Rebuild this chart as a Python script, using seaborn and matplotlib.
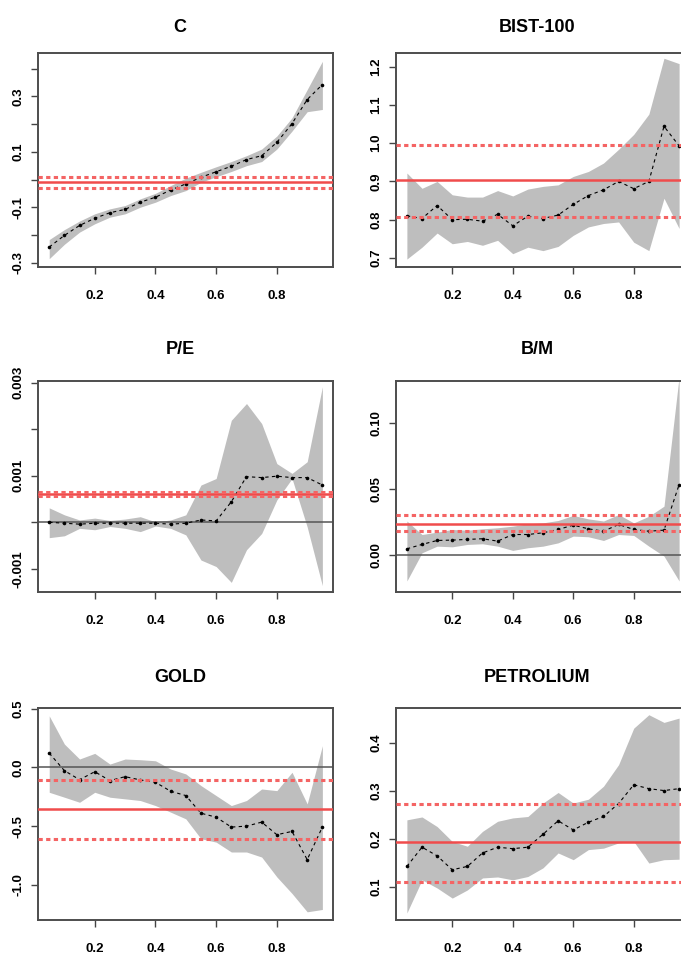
import numpy as np
import matplotlib
matplotlib.use("Agg")
import matplotlib.pyplot as plt
import seaborn as sns

taus = [0.05, 0.10, 0.15, 0.20, 0.25, 0.30, 0.35, 0.40, 0.45, 0.50,
        0.55, 0.60, 0.65, 0.70, 0.75, 0.80, 0.85, 0.90, 0.95]

# C (intercept)
c_est = [-0.244, -0.202, -0.166, -0.140, -0.120, -0.108, -0.082, -0.064, -0.038, -0.016,
         0.008, 0.028, 0.048, 0.072, 0.086, 0.134, 0.202, 0.289, 0.343]
c_lo = [-0.286, -0.234, -0.190, -0.160, -0.136, -0.124, -0.100, -0.082, -0.058, -0.040,
        -0.010, 0.010, 0.029, 0.050, 0.065, 0.110, 0.175, 0.245, 0.253]
c_hi = [-0.217, -0.181, -0.150, -0.124, -0.106, -0.094, -0.070, -0.050, -0.022, 0.005,
        0.026, 0.046, 0.065, 0.086, 0.110, 0.157, 0.223, 0.325, 0.427]
c_ols = [-0.010, -0.032, 0.008]

# BIST-100
bist_est = [0.810, 0.803, 0.837, 0.800, 0.801, 0.796, 0.814, 0.784, 0.809, 0.803,
            0.812, 0.840, 0.863, 0.878, 0.900, 0.881, 0.900, 1.044, 0.993]
bist_lo = [0.697, 0.728, 0.765, 0.737, 0.743, 0.733, 0.746, 0.711, 0.728, 0.719,
           0.730, 0.759, 0.781, 0.790, 0.794, 0.741, 0.719, 0.856, 0.777]
bist_hi = [0.922, 0.882, 0.900, 0.865, 0.859, 0.859, 0.876, 0.862, 0.880, 0.887,
           0.891, 0.913, 0.926, 0.948, 0.984, 1.023, 1.076, 1.222, 1.208]
bist_ols = [0.903, 0.806, 0.995]

# P/E
pe_est = [0.0, -0.00002, -0.00004, -0.00002, -0.00002, -0.00002, -0.00002, -0.00002, -0.00004, -0.00002,
          0.00005, 0.00003, 0.00044, 0.00098, 0.00096, 0.00099, 0.00096, 0.00096, 0.00080]
pe_lo = [-0.00033, -0.00029, -0.00013, -0.00016, -0.00009, -0.00013, -0.00020, -0.00008, -0.00013, -0.00027,
         -0.00081, -0.00095, -0.00129, -0.00059, -0.00024, 0.00048, 0.00094, -0.00010, -0.00136]
pe_hi = [0.00031, 0.00016, 0.00005, 0.00009, 0.00004, 0.00007, 0.00012, 0.00001, 0.00005, 0.00016,
         0.00080, 0.00094, 0.00219, 0.00255, 0.00212, 0.00126, 0.00105, 0.00130, 0.00291]
pe_ols = [0.00061, 0.00057, 0.00065]

# B/M
bm_est = [0.0050, 0.0083, 0.0113, 0.0116, 0.0121, 0.0126, 0.0108, 0.0158, 0.0158, 0.0171,
          0.0196, 0.0229, 0.0201, 0.0183, 0.0234, 0.0196, 0.0183, 0.0191, 0.0535]
bm_lo = [-0.0193, 0.0020, 0.0070, 0.0065, 0.0083, 0.0088, 0.0070, 0.0038, 0.0058, 0.0070,
         0.0095, 0.0146, 0.0141, 0.0113, 0.0158, 0.0151, 0.0070, -0.0005, -0.0193]
bm_hi = [0.0260, 0.0158, 0.0176, 0.0196, 0.0191, 0.0201, 0.0209, 0.0221, 0.0239, 0.0246,
         0.0264, 0.0302, 0.0276, 0.0260, 0.0309, 0.0246, 0.0296, 0.0372, 0.1350]
bm_ols = [0.0241, 0.0183, 0.0309]

# GOLD
gold_est = [0.121, -0.028, -0.105, -0.037, -0.113, -0.079, -0.107, -0.127, -0.203, -0.240,
            -0.390, -0.424, -0.508, -0.500, -0.466, -0.573, -0.545, -0.785, -0.508]
gold_lo = [-0.212, -0.254, -0.297, -0.212, -0.254, -0.268, -0.282, -0.325, -0.381, -0.438,
           -0.607, -0.636, -0.720, -0.720, -0.763, -0.932, -1.073, -1.229, -1.209]
gold_hi = [0.438, 0.198, 0.071, 0.119, 0.028, 0.071, 0.065, 0.056, -0.014, -0.056,
           -0.155, -0.240, -0.325, -0.282, -0.184, -0.198, -0.042, -0.311, 0.184]
gold_ols = [-0.353, -0.607, -0.107]

# PETROLIUM
pet_est = [0.143, 0.183, 0.165, 0.136, 0.143, 0.171, 0.183, 0.180, 0.183, 0.210,
           0.238, 0.219, 0.235, 0.247, 0.274, 0.313, 0.305, 0.301, 0.305]
pet_lo = [0.046, 0.115, 0.098, 0.077, 0.094, 0.119, 0.121, 0.115, 0.122, 0.140,
          0.171, 0.157, 0.178, 0.181, 0.192, 0.195, 0.150, 0.157, 0.158]
pet_hi = [0.240, 0.246, 0.226, 0.195, 0.185, 0.216, 0.237, 0.244, 0.247, 0.275,
          0.297, 0.275, 0.283, 0.310, 0.355, 0.431, 0.459, 0.443, 0.452]
pet_ols = [0.193, 0.110, 0.272]

sns.set_theme(style="white")
plt.rcParams['font.family'] = ['Liberation Sans', 'DejaVu Sans']
plt.rcParams['font.weight'] = 'bold'
plt.rcParams['text.color'] = 'black'
plt.rcParams['xtick.color'] = 'black'
plt.rcParams['ytick.color'] = 'black'
plt.rcParams['xtick.labelcolor'] = 'black'
plt.rcParams['ytick.labelcolor'] = 'black'

W, H = 681, 956
fig = plt.figure(figsize=(W / 100, H / 100), dpi=100)

panels = [
    ("C", c_est, c_lo, c_hi, c_ols, (-0.315, 0.456),
     [-0.3, -0.2, -0.1, 0.0, 0.1, 0.2, 0.3, 0.4], ["-0.3", "", "-0.1", "", "0.1", "", "0.3", ""], False),
    ("BIST-100", bist_est, bist_lo, bist_hi, bist_ols, (0.677, 1.235),
     [0.7, 0.8, 0.9, 1.0, 1.1, 1.2], ["0.7", "0.8", "0.9", "1.0", "1.1", "1.2"], False),
    ("P/E", pe_est, pe_lo, pe_hi, pe_ols, (-0.00149, 0.00304),
     [-0.001, 0.0, 0.001, 0.002, 0.003], ["-0.001", "", "0.001", "", "0.003"], True),
    ("B/M", bm_est, bm_lo, bm_hi, bm_ols, (-0.0274, 0.132),
     [0.0, 0.05, 0.10], ["0.00", "0.05", "0.10"], True),
    ("GOLD", gold_est, gold_lo, gold_hi, gold_ols, (-1.296, 0.505),
     [-1.0, -0.5, 0.0, 0.5], ["-1.0", "-0.5", "0.0", "0.5"], True),
    ("PETROLIUM", pet_est, pet_lo, pet_hi, pet_ols, (0.032, 0.473),
     [0.1, 0.2, 0.3, 0.4], ["0.1", "0.2", "0.3", "0.4"], False),
]

# axes boxes in pixels
lefts = [(38.3, 333.3), (396.0, 690.0)]
rows = [(53.3, 266.7), (380.7, 591.7), (708.0, 919.7)]
title_y = [27, 349, 677]
title_x = [180, 537]

for i, (name, est, lo, hi, ols, ylim, yt, ytl, zero) in enumerate(panels):
    r, c = divmod(i, 2)
    x0, x1 = lefts[c]
    y0, y1 = rows[r]
    ax = fig.add_axes([x0 / W, 1 - y1 / H, (x1 - x0) / W, (y1 - y0) / H])

    ax.fill_between(taus, lo, hi, color="#bebebe", linewidth=0, zorder=1)
    sns.lineplot(x=taus, y=est, ax=ax, color="black", linestyle=(0, (3, 3)),
                 linewidth=0.8, marker="o", markersize=2.6, markeredgewidth=0, zorder=3)
    if zero:
        ax.axhline(0, color="#555555", linewidth=1.1, zorder=2)
    ax.axhline(ols[0], color="#f04c4c", linewidth=1.8, zorder=4)
    ax.axhline(ols[1], color="#f46464", linewidth=2.2, linestyle=(0, (1.4, 1.1)), zorder=4)
    ax.axhline(ols[2], color="#f46464", linewidth=2.2, linestyle=(0, (1.4, 1.1)), zorder=4)

    ax.set_xlim(0.014, 0.986)
    ax.set_ylim(*ylim)
    ax.set_xticks([0.2, 0.4, 0.6, 0.8])
    ax.set_xticklabels(["0.2", "0.4", "0.6", "0.8"], fontsize=9.5, fontweight="bold")
    ax.set_yticks(yt)
    ax.set_yticklabels(ytl, fontsize=9.5, fontweight="bold", rotation=90, va="center")
    ax.tick_params(axis="x", direction="out", length=5, width=1, color="#444444", pad=12,
                   bottom=True)
    ax.tick_params(axis="y", direction="out", length=5, width=1, color="#444444", pad=5,
                   left=True)
    for s in ax.spines.values():
        s.set_visible(True)
        s.set_color("#4d4d4d")
        s.set_linewidth(1.4)
    ax.grid(False)

    fig.text(title_x[c] / W, 1 - title_y[r] / H, name, ha="center", va="center",
             fontsize=13, fontweight="bold", color="black")

fig.savefig("out.png", dpi=100)
